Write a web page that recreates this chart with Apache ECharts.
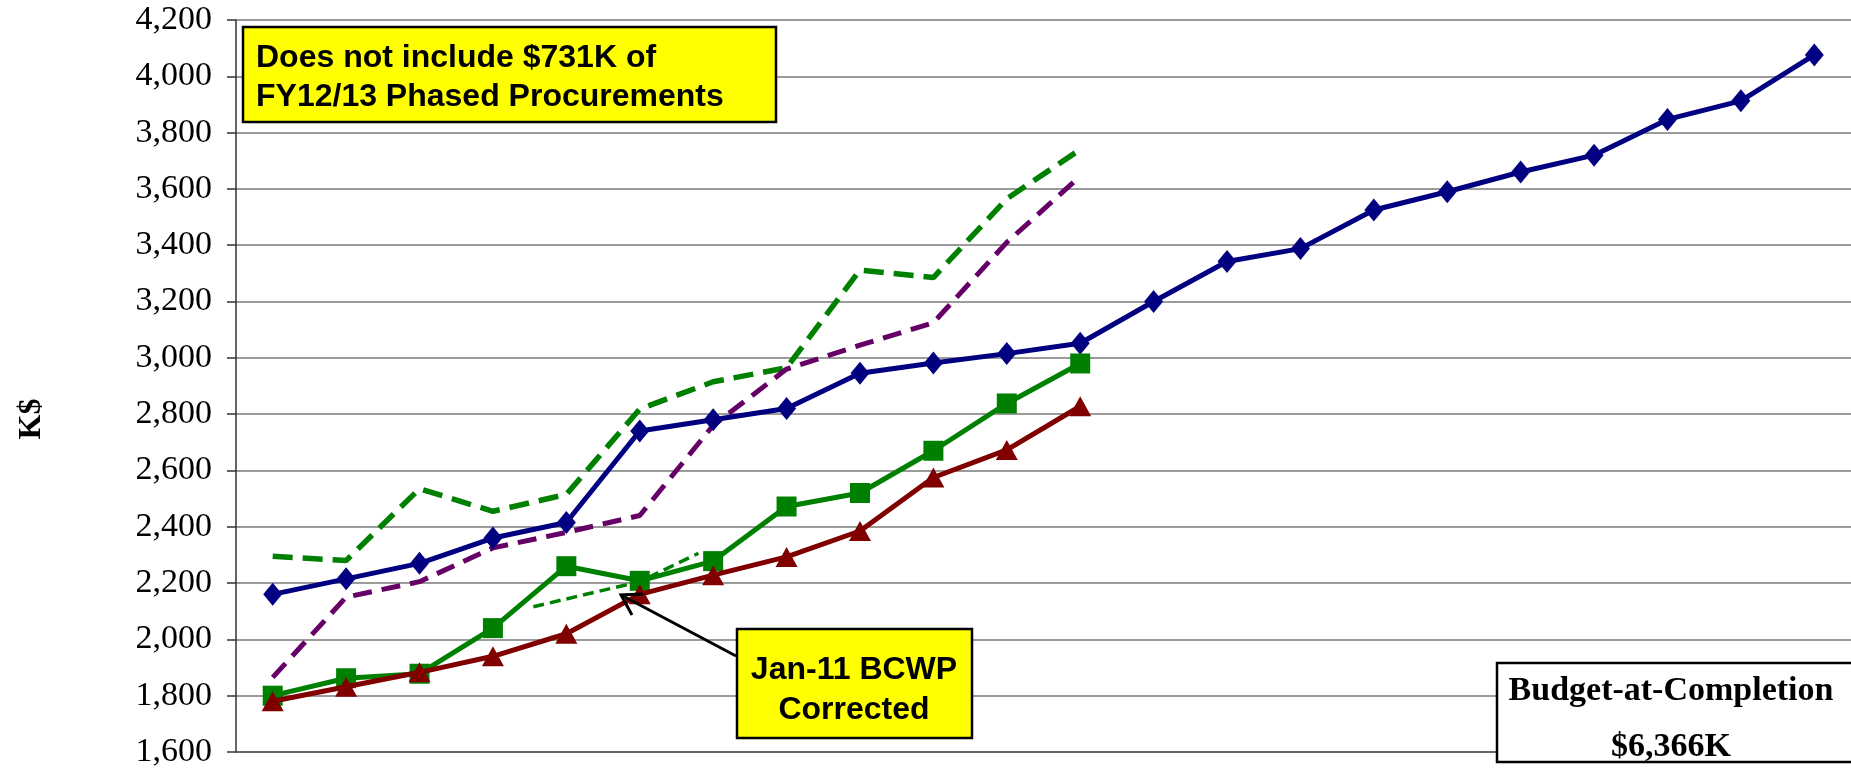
<!DOCTYPE html>
<html>
<head>
<meta charset="utf-8">
<script src="https://cdn.jsdelivr.net/npm/echarts@6/dist/echarts.min.js"></script>
<style>
  html, body { margin: 0; padding: 0; background: #fff; }
  #chart { width: 1851px; height: 769px; }
</style>
</head>
<body>
<div id="chart"></div>
<script>
// months on the category axis (labels fall below the visible area)
const months = ['Aug-10', 'Sep-10', 'Oct-10', 'Nov-10', 'Dec-10', 'Jan-11', 'Feb-11', 'Mar-11',
  'Apr-11', 'May-11', 'Jun-11', 'Jul-11', 'Aug-11', 'Sep-11', 'Oct-11', 'Nov-11', 'Dec-11',
  'Jan-12', 'Feb-12', 'Mar-12', 'Apr-12', 'May-12']

// K$ values
const bcws = [2160, 2215, 2270, 2360, 2415, 2740, 2780, 2820, 2945, 2982, 3015, 3052,
  3200, 3342, 3388, 3525, 3590, 3660, 3720, 3847, 3913, 4076]
const bcwp = [1800, 1862, 1878, 2040, 2260, 2208, 2278, 2472, 2520, 2670, 2838, 2980]
const acwp = [1780, 1832, 1883, 1940, 2020, 2160, 2228, 2293, 2385, 2575, 2673, 2828]
const eacHigh = [2295, 2280, 2535, 2455, 2515, 2818, 2915, 2965, 3312, 3285, 3565, 3740]
const eacLow = [1865, 2150, 2205, 2325, 2380, 2440, 2760, 2960, 3045, 3125, 3410, 3645]
// old BCWP before the Jan-11 correction (x = month index)
const bcwpOld = [[3.55, 2116], [5, 2205], [5.8, 2306]]

const yMin = 1600
const yMax = 4200
const yStep = 200

let chartInstance = echarts.init(document.getElementById('chart'))

const option = {
  animation: false,
  backgroundColor: '#fff',
  grid: {
    left: 236,
    right: 0,
    top: 20,
    bottom: 9
  },
  xAxis: [
    {
      type: 'category',
      data: months,
      boundaryGap: true,
      axisLine: { show: true, lineStyle: { color: '#555', width: 1.5 } },
      axisTick: { show: false },
      axisLabel: { show: false },
      splitLine: { show: false }
    },
    {
      // hidden helper axis for the hand drawn correction line
      type: 'value',
      min: -0.5,
      max: months.length - 0.5,
      show: false
    }
  ],
  yAxis: {
    type: 'value',
    min: yMin,
    max: yMax,
    interval: yStep,
    name: 'K$',
    nameLocation: 'middle',
    nameGap: 188,
    nameRotate: 90,
    nameTextStyle: {
      fontFamily: 'Liberation Serif',
      fontWeight: 'bold',
      fontSize: 32,
      color: '#000',
      padding: [0, 66, 0, 0]
    },
    axisLine: { show: true, onZero: false, lineStyle: { color: '#333', width: 1.5 } },
    axisTick: { show: true, inside: false, length: 9, lineStyle: { color: '#333', width: 1.5 } },
    axisLabel: {
      margin: 24,
      fontFamily: 'Liberation Serif',
      fontSize: 34,
      color: '#000',
      formatter: v => v.toLocaleString('en-US')
    },
    splitLine: { show: true, lineStyle: { color: '#7a7a7a', width: 1.6 } }
  },
  series: [
    {
      name: 'EAC High',
      type: 'line',
      data: eacHigh,
      showSymbol: false,
      symbol: 'none',
      lineStyle: { color: '#008000', width: 5.5, type: [20, 10] },
      z: 2
    },
    {
      name: 'EAC Low',
      type: 'line',
      data: eacLow,
      showSymbol: false,
      symbol: 'none',
      lineStyle: { color: '#660066', width: 5, type: [19, 10] },
      z: 2
    },
    {
      name: 'BCWP (before correction)',
      type: 'line',
      xAxisIndex: 1,
      data: bcwpOld,
      showSymbol: false,
      symbol: 'none',
      lineStyle: { color: '#008000', width: 3.5, type: [11, 6] },
      z: 2
    },
    {
      name: 'BCWS',
      type: 'line',
      data: bcws,
      symbol: 'diamond',
      symbolSize: [19, 23],
      itemStyle: { color: '#000080' },
      lineStyle: { color: '#000080', width: 5 },
      z: 3
    },
    {
      name: 'BCWP',
      type: 'line',
      data: bcwp,
      symbol: 'rect',
      symbolSize: 20,
      itemStyle: { color: '#008000' },
      lineStyle: { color: '#008000', width: 5 },
      z: 3
    },
    {
      name: 'ACWP',
      type: 'line',
      data: acwp,
      symbol: 'triangle',
      symbolSize: [22, 20],
      itemStyle: { color: '#800000' },
      lineStyle: { color: '#800000', width: 5 },
      z: 4
    }
  ],
  graphic: [
    // note box top left
    {
      type: 'rect',
      z: 100,
      shape: { x: 243, y: 27, width: 533, height: 95 },
      style: { fill: '#ffff00', stroke: '#000', lineWidth: 2.5 }
    },
    {
      type: 'text',
      z: 101,
      x: 256, y: 58,
      style: {
        text: 'Does not include $731K of',
        font: 'bold 32px "Liberation Sans"',
        fill: '#000',
        textAlign: 'left',
        textVerticalAlign: 'middle'
      }
    },
    {
      type: 'text',
      z: 101,
      x: 256, y: 97,
      style: {
        text: 'FY12/13 Phased Procurements',
        font: 'bold 32px "Liberation Sans"',
        fill: '#000',
        textAlign: 'left',
        textVerticalAlign: 'middle'
      }
    },
    // Jan-11 correction callout
    {
      type: 'polyline',
      z: 100,
      shape: { points: [[736, 656], [621, 595]] },
      style: { stroke: '#000', lineWidth: 3, fill: null }
    },
    {
      type: 'polyline',
      z: 100,
      shape: { points: [[643, 594], [621, 595], [632, 615]] },
      style: { stroke: '#000', lineWidth: 3, fill: null }
    },
    {
      type: 'rect',
      z: 100,
      shape: { x: 737, y: 629, width: 235, height: 109 },
      style: { fill: '#ffff00', stroke: '#000', lineWidth: 2.5 }
    },
    {
      type: 'text',
      z: 101,
      x: 854, y: 670,
      style: {
        text: 'Jan-11 BCWP',
        font: 'bold 32px "Liberation Sans"',
        fill: '#000',
        textAlign: 'center',
        textVerticalAlign: 'middle'
      }
    },
    {
      type: 'text',
      z: 101,
      x: 854, y: 710,
      style: {
        text: 'Corrected',
        font: 'bold 32px "Liberation Sans"',
        fill: '#000',
        textAlign: 'center',
        textVerticalAlign: 'middle'
      }
    },
    // budget at completion box (runs off the right edge)
    {
      type: 'rect',
      z: 100,
      shape: { x: 1497, y: 663, width: 380, height: 99 },
      style: { fill: '#fff', stroke: '#000', lineWidth: 2.5 }
    },
    {
      type: 'text',
      z: 101,
      x: 1671, y: 691,
      style: {
        text: 'Budget-at-Completion',
        font: 'bold 34px "Liberation Serif"',
        fill: '#000',
        textAlign: 'center',
        textVerticalAlign: 'middle'
      }
    },
    {
      type: 'text',
      z: 101,
      x: 1671, y: 747,
      style: {
        text: '$6,366K',
        font: 'bold 34px "Liberation Serif"',
        fill: '#000',
        textAlign: 'center',
        textVerticalAlign: 'middle'
      }
    }
  ]
}

chartInstance.setOption(option)
</script>
</body>
</html>
